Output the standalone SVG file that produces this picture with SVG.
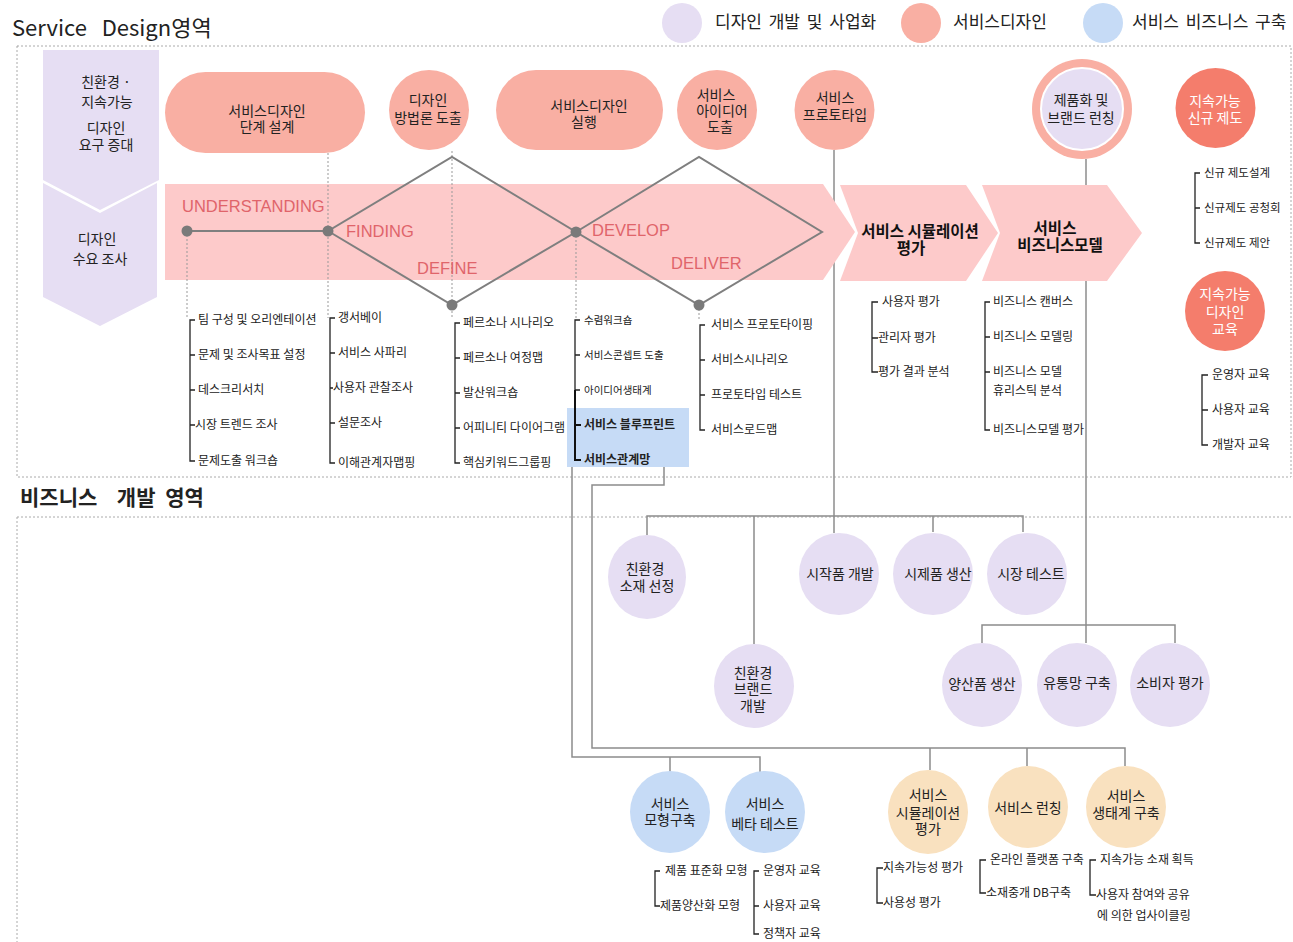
<svg xmlns="http://www.w3.org/2000/svg" width="1293" height="942" viewBox="0 0 1293 942">
<style>
text{font-family:"Noto Sans CJK KR","Liberation Sans",sans-serif;fill:#222}
.t{font-size:14px;text-anchor:middle}
.tb{font-size:15.5px;text-anchor:middle;font-weight:bold;fill:#111}
.li{font-size:12px}
.sm{font-size:10.5px}
.b{font-weight:bold}
.lg{font-size:17px;word-spacing:3px}
.ph{font-family:"Liberation Sans",Arial,sans-serif;font-size:16.5px;fill:#E0646A}
.w{fill:#fff}
.lav{fill:#E6DEF3}
.sal{fill:#F9AFA3}
.blu{fill:#C6DBF6}
.org{fill:#F9E1BF}
.red{fill:#F47D6C}
.band{fill:#FDCACA}
.frame{fill:none;stroke:#aaa;stroke-width:1;stroke-dasharray:2 2}
.dot{fill:none;stroke:#999;stroke-width:1;stroke-dasharray:2 2}
.conn{fill:none;stroke:#8c8c8c;stroke-width:1.5}
.dia{fill:none;stroke:#7f7f7f;stroke-width:2}
.br{fill:none;stroke:#222;stroke-width:1.3}
.brb{fill:none;stroke:#111;stroke-width:2}
</style>

<!-- titles and legend -->
<g id="titles">
<text x="12" y="36" font-family="Liberation Sans,Noto Sans CJK KR,sans-serif" font-size="22" fill="#111" xml:space="preserve">Service   Design영역</text>
<text x="20" y="505" font-size="21" font-weight="bold" fill="#111" word-spacing="5" xml:space="preserve">비즈니스  개발 영역</text>
</g>
<g id="legend">
<circle cx="682" cy="23" r="20" class="lav"/>
<text x="715" y="28" class="lg">디자인 개발 및 사업화</text>
<circle cx="921" cy="23" r="20" class="sal"/>
<text x="953" y="28" class="lg">서비스디자인</text>
<circle cx="1103" cy="23" r="20" class="blu"/>
<text x="1132" y="28" class="lg">서비스 비즈니스 구축</text>
</g>

<!-- area frames -->
<g id="frames">
<rect x="17" y="46" width="1274" height="431" class="frame"/>
<path d="M17 517H1293M17 517V942" class="frame"/>
</g>

<!-- connectors drawn beneath the process band -->
<g id="connectors">
<path d="M834 150V533" class="conn"/>
<path d="M1086 159V643" class="conn"/>
<path d="M647 535V516H1023V532M754 516V644M933 516V532" class="conn"/>
<path d="M982 643V625H1175V643" class="conn"/>
<path d="M572 460V757H760V772M670 757V772" class="conn"/>
<path d="M664 467V485H592V748H1125V766M930 748V770M1027 748V766" class="conn"/>
</g>

<!-- left demand chevrons -->
<g id="need">
<polygon points="43,50 159,50 159,180 100,210 43,180" class="lav"/>
<text class="t" font-size="15"><tspan x="106" y="87">친환경 ·</tspan><tspan x="107" y="107">지속가능</tspan><tspan x="106" y="133">디자인</tspan><tspan x="106" y="150">요구 증대</tspan></text>
</g>
<g id="survey">
<polygon points="43,183 100,213 157,183 157,297 100,326 43,297" class="lav"/>
<text class="t" font-size="15"><tspan x="97" y="244">디자인</tspan><tspan x="100" y="264">수요 조사</tspan></text>
</g>

<!-- process band -->
<g id="band">
<polygon points="165,184 823,184 855,232 823,280 165,280" class="band"/>
</g>
<g id="simulation">
<polygon points="840,185 966,185 998,233 966,281 840,281 858,233" class="band"/>
<text class="tb"><tspan x="920" y="237">서비스 시뮬레이션</tspan><tspan x="911" y="254">평가</tspan></text>
</g>
<g id="bizmodel">
<polygon points="982,185 1107,185 1142,233 1107,281 982,281 1000,233" class="band"/>
<text class="tb"><tspan x="1055" y="234">서비스</tspan><tspan x="1060" y="251">비즈니스모델</tspan></text>
</g>

<!-- dotted guides -->
<g id="guides">
<path d="M187 231V318M328 153V318M452 151V318M576 232V318M699 305V320" class="dot"/>
</g>

<!-- double diamond -->
<g id="diamond">
<path d="M187 231H328L452 157L576 232L452 305L328 231M576 232L699 157L822 232L699 305Z" class="dia"/>
<circle cx="187" cy="231" r="5.5" fill="#7a7a7a"/>
<circle cx="328" cy="231" r="5.5" fill="#7a7a7a"/>
<circle cx="452" cy="305" r="5.5" fill="#7a7a7a"/>
<circle cx="576" cy="232" r="5.5" fill="#7a7a7a"/>
<circle cx="699" cy="305" r="5.5" fill="#7a7a7a"/>
<text x="182" y="212" class="ph">UNDERSTANDING</text>
<text x="346" y="237" class="ph">FINDING</text>
<text x="417" y="274" class="ph">DEFINE</text>
<text x="592" y="236" class="ph">DEVELOP</text>
<text x="671" y="269" class="ph">DELIVER</text>
</g>

<!-- top service design nodes -->
<g id="stage-design">
<rect x="165" y="72" width="200" height="81" rx="40.5" class="sal"/>
<text class="t" font-size="15"><tspan x="267" y="116">서비스디자인</tspan><tspan x="267" y="132">단계 설계</tspan></text>
</g>
<g id="method">
<circle cx="429" cy="110" r="40" class="sal"/>
<text class="t" font-size="13.5"><tspan x="428" y="105">디자인</tspan><tspan x="428" y="123">방법론 도출</tspan></text>
</g>
<g id="execute">
<rect x="496" y="70" width="167" height="80" rx="40" class="sal"/>
<text class="t" font-size="15"><tspan x="589" y="111">서비스디자인</tspan><tspan x="584" y="127">실행</tspan></text>
</g>
<g id="idea">
<circle cx="717" cy="110" r="40" class="sal"/>
<text class="t"><tspan x="716" y="100">서비스</tspan><tspan x="722" y="116">아이디어</tspan><tspan x="720" y="132">도출</tspan></text>
</g>
<g id="prototype">
<circle cx="834.5" cy="110" r="40" class="sal"/>
<text class="t"><tspan x="835" y="103">서비스</tspan><tspan x="835" y="120">프로토타입</tspan></text>
</g>
<g id="launch">
<circle cx="1082" cy="109" r="50" class="sal"/>
<circle cx="1082" cy="109" r="41" class="lav" stroke="#fff" stroke-width="2"/>
<text class="t" font-size="13.5"><tspan x="1081" y="105">제품화 및</tspan><tspan x="1081" y="123">브랜드 런칭</tspan></text>
</g>
<g id="policy">
<circle cx="1215.5" cy="108" r="40" class="red"/>
<text class="t w"><tspan x="1215" y="106">지속가능</tspan><tspan x="1215" y="123">신규 제도</tspan></text>
</g>
<g id="education">
<circle cx="1225" cy="311" r="40" class="red"/>
<text class="t w"><tspan x="1225" y="299">지속가능</tspan><tspan x="1225" y="317">디자인</tspan><tspan x="1225" y="334">교육</tspan></text>
</g>

<!-- method lists -->
<g id="list-understanding">
<path d="M195 320H190V461H195M190 355H195M190 390H195M190 425H195" class="br"/>
<text class="li"><tspan x="198" y="324">팀 구성 및 오리엔테이션</tspan><tspan x="198" y="359">문제 및 조사목표 설정</tspan><tspan x="198" y="394">데스크리서치</tspan><tspan x="195" y="429">시장 트렌드 조사</tspan><tspan x="198" y="465">문제도출 워크숍</tspan></text>
</g>
<g id="list-finding">
<path d="M335 318H330V463H335M330 353H335M330 388H333M330 423H335" class="br"/>
<text class="li"><tspan x="338" y="322">갱서베이</tspan><tspan x="338" y="357">서비스 사파리</tspan><tspan x="333" y="392">사용자 관찰조사</tspan><tspan x="338" y="427">설문조사</tspan><tspan x="338" y="467">이해관계자맵핑</tspan></text>
</g>
<g id="list-define">
<path d="M460 323H455V463H460M455 358H460M455 393H460M455 428H460" class="br"/>
<text class="li"><tspan x="463" y="327">페르소나 시나리오</tspan><tspan x="463" y="362">페르소나 여정맵</tspan><tspan x="463" y="397">발산워크숍</tspan><tspan x="463" y="432">어피니티 다이어그램</tspan><tspan x="463" y="467">핵심키워드그룹핑</tspan></text>
</g>
<g id="list-develop">
<rect x="567" y="408" width="122" height="59" fill="#C6DBF6"/>
<path d="M580 320H575V390M575 355H580M575 390H580" class="br"/>
<path d="M575 390V460H581M575 425H581" class="brb"/>
<text class="sm"><tspan x="584" y="324">수렴워크숍</tspan><tspan x="584" y="359">서비스콘셉트 도출</tspan><tspan x="584" y="394">아이디어생태계</tspan></text>
<text class="li b"><tspan x="584" y="429">서비스 블루프린트</tspan><tspan x="584" y="464">서비스관계망</tspan></text>
</g>
<g id="list-deliver">
<path d="M705 325H700V430H705M700 360H705M700 395H705" class="br"/>
<text class="li"><tspan x="711" y="329">서비스 프로토타이핑</tspan><tspan x="711" y="364">서비스시나리오</tspan><tspan x="711" y="399">프로토타입 테스트</tspan><tspan x="711" y="434">서비스로드맵</tspan></text>
</g>
<g id="list-simulation">
<path d="M878 302H872V372H878M872 338H878" class="br"/>
<text class="li"><tspan x="882" y="306">사용자 평가</tspan><tspan x="878" y="342">관리자 평가</tspan><tspan x="878" y="376">평가 결과 분석</tspan></text>
</g>
<g id="list-bizmodel">
<path d="M990 302H985V430H990M985 337H990M985 372H990" class="br"/>
<text class="li"><tspan x="993" y="306">비즈니스 캔버스</tspan><tspan x="993" y="341">비즈니스 모델링</tspan><tspan x="993" y="376">비즈니스 모델</tspan><tspan x="993" y="395">휴리스틱 분석</tspan><tspan x="993" y="434">비즈니스모델 평가</tspan></text>
</g>
<g id="list-policy">
<path d="M1200 173H1195V243H1200M1195 208H1200" class="br"/>
<text font-size="11.5"><tspan x="1204" y="177">신규 제도설계</tspan><tspan x="1204" y="212">신규제도 공청회</tspan><tspan x="1204" y="247">신규제도 제안</tspan></text>
</g>
<g id="list-education">
<path d="M1208 375H1202V445H1208M1202 410H1208" class="br"/>
<text class="li"><tspan x="1212" y="379">운영자 교육</tspan><tspan x="1212" y="414">사용자 교육</tspan><tspan x="1212" y="449">개발자 교육</tspan></text>
</g>

<!-- business development nodes -->
<g id="eco-material">
<ellipse cx="647" cy="577" rx="39" ry="42" class="lav"/>
<text class="t"><tspan x="645" y="574">친환경</tspan><tspan x="647" y="591">소재 선정</tspan></text>
</g>
<g id="trial-dev">
<ellipse cx="839" cy="574" rx="40" ry="41" class="lav"/>
<text x="840" y="579" class="t">시작품 개발</text>
</g>
<g id="pilot-prod">
<ellipse cx="933" cy="574" rx="40" ry="41" class="lav"/>
<text x="938" y="579" class="t">시제품 생산</text>
</g>
<g id="market-test">
<ellipse cx="1027" cy="574" rx="40" ry="41" class="lav"/>
<text x="1031" y="579" class="t">시장 테스트</text>
</g>
<g id="eco-brand">
<ellipse cx="754" cy="686" rx="40" ry="42" class="lav"/>
<text class="t"><tspan x="753" y="678">친환경</tspan><tspan x="753" y="694">브랜드</tspan><tspan x="753" y="711">개발</tspan></text>
</g>
<g id="mass-prod">
<ellipse cx="982" cy="685" rx="40" ry="42" class="lav"/>
<text x="982" y="689" class="t">양산품 생산</text>
</g>
<g id="distribution">
<ellipse cx="1077" cy="685" rx="40" ry="42" class="lav"/>
<text x="1077" y="688" class="t">유통망 구축</text>
</g>
<g id="consumer">
<ellipse cx="1170" cy="685" rx="40" ry="42" class="lav"/>
<text x="1170" y="688" class="t">소비자 평가</text>
</g>
<g id="model-build">
<ellipse cx="670" cy="812" rx="40" ry="41" class="blu"/>
<text class="t" font-size="13"><tspan x="670" y="809">서비스</tspan><tspan x="670" y="825">모형구축</tspan></text>
</g>
<g id="beta-test">
<ellipse cx="765" cy="812" rx="40" ry="41" class="blu"/>
<text class="t" font-size="13"><tspan x="765" y="809">서비스</tspan><tspan x="765" y="829">베타 테스트</tspan></text>
</g>
<g id="sim-eval">
<ellipse cx="928" cy="812" rx="40" ry="42" class="org"/>
<text class="t" font-size="13"><tspan x="928" y="800">서비스</tspan><tspan x="928" y="818">시뮬레이션</tspan><tspan x="928" y="834">평가</tspan></text>
</g>
<g id="svc-launch">
<ellipse cx="1028" cy="807" rx="40" ry="41" class="org"/>
<text x="1028" y="813" class="t" font-size="13">서비스 런칭</text>
</g>
<g id="ecosystem">
<ellipse cx="1126" cy="807" rx="40" ry="41" class="org"/>
<text class="t" font-size="13"><tspan x="1126" y="801">서비스</tspan><tspan x="1126" y="818">생태계 구축</tspan></text>
</g>

<!-- business lists -->
<g id="list-model">
<path d="M660 871H655V906H660" class="br"/>
<text class="li"><tspan x="665" y="875">제품 표준화 모형</tspan><tspan x="660" y="910">제품양산화 모형</tspan></text>
</g>
<g id="list-beta">
<path d="M759 871H754V934H759M754 906H759" class="br"/>
<text class="li"><tspan x="763" y="875">운영자 교육</tspan><tspan x="763" y="910">사용자 교육</tspan><tspan x="763" y="938">정책자 교육</tspan></text>
</g>
<g id="list-sim">
<path d="M883 868H877V903H883" class="br"/>
<text class="li"><tspan x="883" y="872">지속가능성 평가</tspan><tspan x="883" y="907">사용성 평가</tspan></text>
</g>
<g id="list-launch">
<path d="M986 860H980V893H986" class="br"/>
<text class="li"><tspan x="990" y="864">온라인 플랫폼 구축</tspan><tspan x="986" y="897">소재중개 DB구축</tspan></text>
</g>
<g id="list-eco">
<path d="M1096 860H1090V895H1096" class="br"/>
<text class="li"><tspan x="1100" y="864">지속가능 소재 획득</tspan><tspan x="1096" y="899">사용자 참여와 공유</tspan><tspan x="1097" y="920">에 의한 업사이클링</tspan></text>
</g>
</svg>
